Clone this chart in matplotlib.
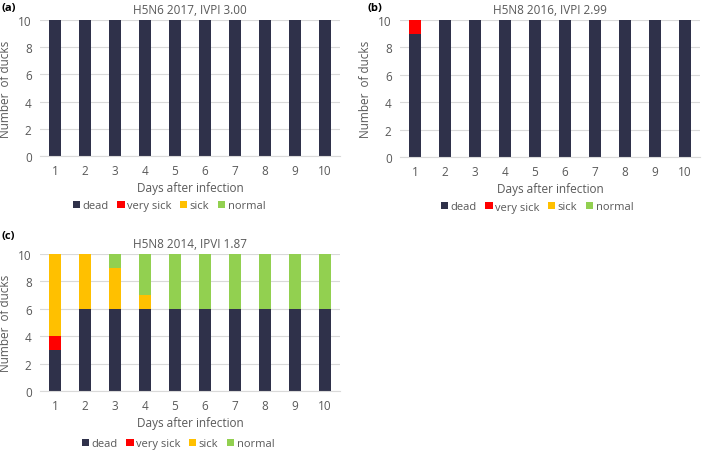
import matplotlib
matplotlib.use("Agg")
import matplotlib.pyplot as plt
import numpy as np

days = [1, 2, 3, 4, 5, 6, 7, 8, 9, 10]
categories = ["dead", "very sick", "sick", "normal"]
colors = ["#2F314A", "#FF0000", "#FFC000", "#92D050"]

a_dead = [10, 10, 10, 10, 10, 10, 10, 10, 10, 10]
a_very = [0, 0, 0, 0, 0, 0, 0, 0, 0, 0]
a_sick = [0, 0, 0, 0, 0, 0, 0, 0, 0, 0]
a_norm = [0, 0, 0, 0, 0, 0, 0, 0, 0, 0]

b_dead = [9, 10, 10, 10, 10, 10, 10, 10, 10, 10]
b_very = [1, 0, 0, 0, 0, 0, 0, 0, 0, 0]
b_sick = [0, 0, 0, 0, 0, 0, 0, 0, 0, 0]
b_norm = [0, 0, 0, 0, 0, 0, 0, 0, 0, 0]

c_dead = [3, 6, 6, 6, 6, 6, 6, 6, 6, 6]
c_very = [1, 0, 0, 0, 0, 0, 0, 0, 0, 0]
c_sick = [6, 4, 3, 1, 0, 0, 0, 0, 0, 0]
c_norm = [0, 0, 1, 3, 4, 4, 4, 4, 4, 4]

titles = ["H5N6 2017, IVPI 3.00", "H5N8 2016, IVPI 2.99", "H5N8 2014, IPVI 1.87"]
panel_labels = ["(a)", "(b)", "(c)"]

W, H = 709, 452
fig = plt.figure(figsize=(W / 100, H / 100), dpi=100)
plt.rcParams['font.family'] = ['Open Sans', 'DejaVu Sans']
txt = "#595959"

def px(x0, y_top, x1, y_bot):
    return [x0 / W, 1 - y_bot / H, (x1 - x0) / W, (y_bot - y_top) / H]

rects = [px(40, 21, 340, 157), px(400, 21, 700, 158), px(40, 255, 340, 392)]
data = [(a_dead, a_very, a_sick, a_norm), (b_dead, b_very, b_sick, b_norm), (c_dead, c_very, c_sick, c_norm)]
label_pos = [(2, 8), (367, 8), (2, 236)]
legend_pos = [(169, 207), (537, 208), (178, 445)]

for i in range(3):
    ax = fig.add_axes(rects[i])
    x = np.arange(len(days))
    bottom = np.zeros(len(days))
    for vals, col, name in zip(data[i], colors, categories):
        ax.bar(x, vals, width=0.4, bottom=bottom, color=col, label=name, zorder=3)
        bottom = bottom + np.array(vals)
    ax.set_xlim(-0.5, len(days) - 0.5)
    ax.set_ylim(0, 10)
    ax.set_yticks([0, 2, 4, 6, 8, 10])
    ax.set_xticks(x)
    ax.set_xticklabels([str(d) for d in days])
    ax.yaxis.grid(True, color="#D9D9D9", linewidth=0.8, zorder=0)
    for s in ["top", "right", "left"]:
        ax.spines[s].set_visible(False)
    ax.spines["bottom"].set_color("#D9D9D9")
    ax.spines["bottom"].set_zorder(4)
    ax.tick_params(axis="both", length=0, labelsize=8.5, colors=txt, pad=6)
    ax.set_xlabel("Days after infection", fontsize=8.5, color=txt, labelpad=3)
    ax.set_ylabel("Number  of ducks", fontsize=8.5, color=txt, labelpad=4)
    ax.set_title(titles[i], fontsize=8.5, color=txt, pad=5)
    lx, ly = legend_pos[i]
    ax.legend(loc="center", bbox_to_anchor=(lx / W, 1 - ly / H), bbox_transform=fig.transFigure,
              ncol=4, frameon=False, borderaxespad=0, borderpad=0,
              fontsize=8, handlelength=0.65, handleheight=0.65, handletextpad=0.2,
              columnspacing=0.8, labelcolor=txt)
    px_, py_ = label_pos[i]
    fig.text(px_ / W, 1 - py_ / H, panel_labels[i], fontsize=8, fontweight="bold",
             color="black", va="center", ha="left")

fig.savefig("out.png", dpi=100)
